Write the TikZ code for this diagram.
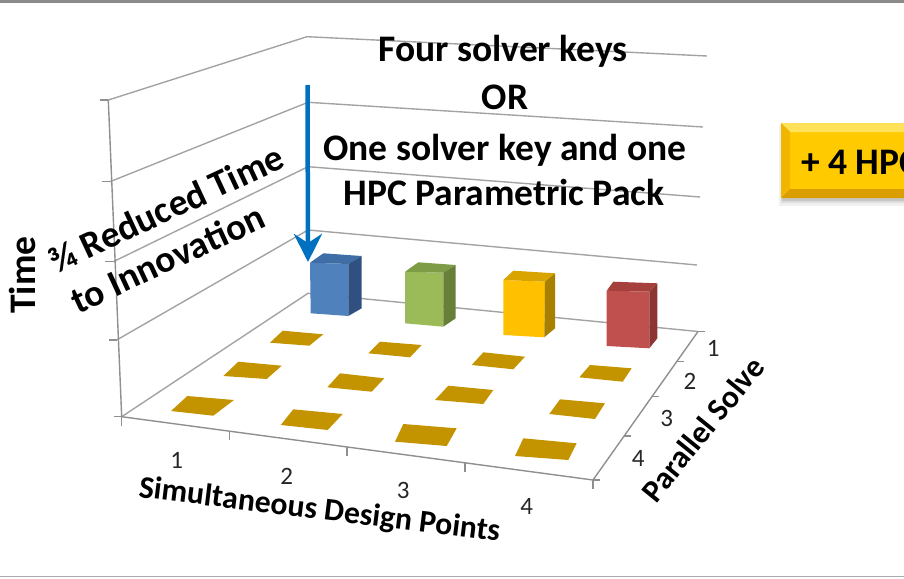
\documentclass[tikz,border=0pt]{standalone}
\usepackage{fontspec}
\setmainfont{Carlito}
\usetikzlibrary{arrows.meta,calc}

\definecolor{gridgray}{HTML}{A3A3A3}
\definecolor{axisgray}{HTML}{8F8F8F}
\definecolor{framegray}{HTML}{8A8A8A}
\definecolor{framegraylow}{HTML}{ABABAB}
\definecolor{numgray}{HTML}{262626}
\definecolor{arrowblue}{HTML}{0070C0}
\definecolor{floorgold}{HTML}{C49400}
% bar colours: front / top / side
\definecolor{bluefront}{HTML}{4F81BD}\definecolor{bluetop}{HTML}{3F6DA6}\definecolor{blueside}{HTML}{2F5080}
\definecolor{greenfront}{HTML}{9BBB59}\definecolor{greentop}{HTML}{7E9C46}\definecolor{greenside}{HTML}{677F39}
\definecolor{yellowfront}{HTML}{FFC000}\definecolor{yellowtop}{HTML}{D9A300}\definecolor{yellowside}{HTML}{A88000}
\definecolor{redfront}{HTML}{C0504D}\definecolor{redtop}{HTML}{A5403D}\definecolor{redside}{HTML}{8C3532}
% button colours
\definecolor{btnface}{HTML}{FFCA00}
\definecolor{btntop}{HTML}{FFE25A}
\definecolor{btnleft}{HTML}{F2B500}
\definecolor{btnbottom}{HTML}{DB9E00}

\newcommand{\txtbig}{\fontsize{37.5}{44}\selectfont\bfseries}
\newcommand{\txtaxis}{\fontsize{31.7}{36}\selectfont\bfseries}
\newcommand{\txtnum}{\fontsize{25}{28}\selectfont}

\begin{document}
\begin{tikzpicture}[x=1pt,y=-1pt,
  gridline/.style={draw=gridgray,line width=1.4pt},
  axisline/.style={draw=axisgray,line width=1.4pt},
  txt/.style={inner sep=0pt,outer sep=0pt,text=black},
  numlbl/.style={inner sep=0pt,text=numgray,font=\txtnum},
  flat/.style={fill=floorgold}]
\useasboundingbox (0,0) rectangle (904,578);
\clip (0,0) rectangle (904,578);

% slide frame lines
\fill[framegray] (0,0) rectangle (904,3.5);
\fill[framegraylow] (0,575.6) rectangle (904,577.2);

% wall corners: left axis, back corner, right ends
\coordinate (L0) at (108.3,100);   \coordinate (C0) at (307,36.7);   \coordinate (R0) at (707,56);
\coordinate (L1) at (110,181.7);   \coordinate (C1) at (308,102.3);  \coordinate (R1) at (703,127);
\coordinate (L2) at (113.3,261.7); \coordinate (C2) at (308,166.7);  \coordinate (R2) at (700,197);
\coordinate (L3) at (116.7,340);   \coordinate (C3) at (308,230);    \coordinate (R3) at (697,265);
\coordinate (L4) at (121.7,416.7); \coordinate (C4) at (308,293.3);  \coordinate (R4) at (698,331.5);
\coordinate (F)  at (593,480);

% gridlines on the side and back walls
\foreach \i in {0,...,4}{
  \draw[gridline] (L\i) -- (C\i) -- (R\i);
}

% value axis with ticks
\draw[axisline] (L0) -- (L4);
\foreach \i in {0,...,4}{
  \draw[axisline] (L\i) -- ++(-8,0);
}
% category axis with ticks
\draw[axisline] (L4) -- (F);
\foreach \p in {0,0.229,0.478,0.728,1}{
  \draw[axisline] ($(L4)!\p!(F)$) -- ++(0,9);
}
% series axis with ticks
\draw[axisline] (R4) -- (F);
\foreach \p in {0,0.203,0.439,0.703,1}{
  \draw[axisline] ($(R4)!\p!(F)$) -- ++(7,0);
}

% zero-height bars on the floor
\fill[flat] (282.7,330.7) -- (323.3,334.3) -- (309.3,345.7) -- (270,342.7) -- cycle;
\fill[flat] (380,341.7) -- (421.7,345) -- (410,357.3) -- (368.3,353.3) -- cycle;
\fill[flat] (483.3,352.3) -- (525,356.7) -- (513.3,369.3) -- (471.7,365) -- cycle;
\fill[flat] (590,365) -- (631.7,368.3) -- (622.7,381.7) -- (579.3,377.3) -- cycle;
\fill[flat] (238.3,361.7) -- (281.7,365.7) -- (266.7,379) -- (223.3,376) -- cycle;
\fill[flat] (340,373.3) -- (384.3,378.3) -- (371.7,391.7) -- (327.3,387.3) -- cycle;
\fill[flat] (448.3,385.7) -- (493.3,390) -- (483.3,404) -- (435,400) -- cycle;
\fill[flat] (560,399.3) -- (605,403.3) -- (595,419) -- (549.3,414) -- cycle;
\fill[flat] (187.3,396) -- (234,400) -- (213.3,415.7) -- (171,411) -- cycle;
\fill[flat] (293.3,409.3) -- (342.7,414) -- (327.7,430) -- (280.7,425) -- cycle;
\fill[flat] (403.3,424) -- (456.7,428.3) -- (446.7,446) -- (395,441.7) -- cycle;
\fill[flat] (523.3,438.3) -- (576.7,443.3) -- (568.3,460) -- (515,456) -- cycle;

% bars of the first series row
\fill[bluefront] (310,262.7) -- (348.3,264) -- (348.3,316) -- (310.7,313.3) -- cycle;
\fill[bluetop] (310,262.7) -- (323.3,253.3) -- (361.7,256) -- (348.3,264) -- cycle;
\fill[blueside] (348.3,264) -- (361.7,256) -- (361.7,308.3) -- (348.3,316) -- cycle;

\fill[greenfront] (405,271.7) -- (443.3,272.7) -- (443.3,326.7) -- (405,323.3) -- cycle;
\fill[greentop] (405,271.7) -- (418.3,262.3) -- (455.7,265) -- (443.3,272.7) -- cycle;
\fill[greenside] (443.3,272.7) -- (455.7,265) -- (455.7,318.3) -- (443.3,326.7) -- cycle;

\fill[yellowfront] (503.3,280) -- (545,281.7) -- (544.3,337.3) -- (503.3,335) -- cycle;
\fill[yellowtop] (503.3,280) -- (513.3,270.7) -- (555,273.3) -- (545,281.7) -- cycle;
\fill[yellowside] (545,281.7) -- (555,273.3) -- (555,328.3) -- (544.3,337.3) -- cycle;

\fill[redfront] (606.7,290.7) -- (649.3,291.7) -- (649.3,348.3) -- (606.7,346) -- cycle;
\fill[redtop] (606.7,290.7) -- (613.3,281.7) -- (657.3,283.3) -- (649.3,291.7) -- cycle;
\fill[redside] (649.3,291.7) -- (657.3,283.3) -- (657.3,338.3) -- (649.3,348.3) -- cycle;

% downward arrow onto the first bar
\coordinate (arrtop) at (307.5,85);
\coordinate (arrtip) at (308,262);
\draw[arrowblue,line width=4.5pt,-{Stealth[length=28pt,width=28pt,inset=9pt]}] (arrtop) -- (arrtip);

% axis tick labels
\node[numlbl] (x1) at (176.7,460) {1};
\node[numlbl] (x2) at (286.7,476.7) {2};
\node[numlbl] (x3) at (403.3,490) {3};
\node[numlbl] (x4) at (526.7,506.7) {4};
\node[numlbl] (z1) at (713.3,348.3) {1};
\node[numlbl] (z2) at (690,381.7) {2};
\node[numlbl] (z3) at (666.7,418.3) {3};
\node[numlbl] (z4) at (638.3,458.3) {4};

% axis titles
\node[txt,font=\txtbig,rotate=90,anchor=base] (ttime) at (35,275) {Time};
\node[txt,font=\txtaxis,rotate=-7,anchor=base west] (tcat) at (138,497) {Simultaneous Design Points};
\node[txt,font=\txtaxis,rotate=51,anchor=base west] (tser) at (656,504) {Parallel Solve};

% annotations
\node[txt,font=\txtbig,anchor=base] (k1) at (503,61.7) {Four solver keys};
\node[txt,font=\txtbig,anchor=base] (k2) at (505,109.3) {OR};
\node[txt,font=\txtbig,anchor=base] (k3) at (505,160) {One solver key and one};
\node[txt,font=\txtbig,anchor=base] (k4) at (504,205) {HPC Parametric Pack};

\node[txt,font=\txtbig,rotate=25,anchor=base west] (rt1) at (56,274) {¾ Reduced Time};
\node[txt,font=\txtbig,rotate=25,anchor=base west] (rt2) at (78,314.5) {to Innovation};

% bevelled button at the right edge
\fill[black,opacity=0.06] (779,125) rectangle (912,206);
\fill[black,opacity=0.08] (781,126) rectangle (912,203);
\fill[black,opacity=0.10] (782,127) rectangle (912,200.5);
\fill[btnface] (790,132) rectangle (912,189);
\fill[btntop] (781,123) -- (912,123) -- (912,132) -- (790,132) -- cycle;
\fill[btnleft] (781,123) -- (790,132) -- (790,189) -- (781,198) -- cycle;
\fill[btnbottom] (781,198) -- (790,189) -- (912,189) -- (912,198) -- cycle;
\node[txt,font=\fontsize{37.5}{40}\selectfont\bfseries,anchor=base west] (hpc) at (801,174) {+ 4 HPC};
\end{tikzpicture}
\end{document}
